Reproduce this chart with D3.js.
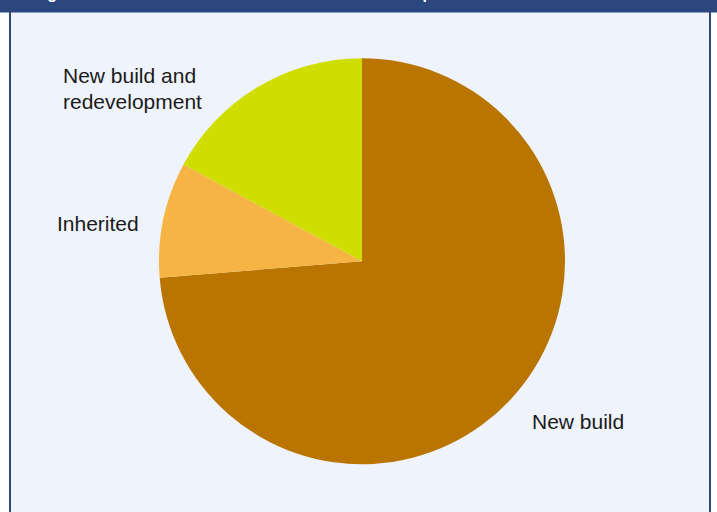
<!DOCTYPE html>
<html>
<head>
<meta charset="utf-8">
<script src="https://cdn.jsdelivr.net/npm/d3@7"></script>
<style>
  html, body { margin: 0; padding: 0; background: #ffffff; }
  svg { display: block; }
</style>
</head>
<body>
<svg id="chart" width="717" height="512"></svg>
<script>
// Share of homes by how they came onto the estate
const categories = ["New build", "Inherited", "New build and redevelopment"];
const shares = [73.7, 9.2, 17.1];
const sliceColors = ["#BA7400", "#F5B443", "#D0DD00"];
const titleText = "Figure 6: Homes on the estate in terms of ownership";

const width = 717, height = 512;
const svg = d3.select("#chart");

// Panel with a framed border
svg.append("rect")
  .attr("x", 10).attr("y", 0)
  .attr("width", 700).attr("height", 530)
  .attr("fill", "#EFF3FB")
  .attr("stroke", "#2B477D")
  .attr("stroke-width", 2);

// Heading band
svg.append("rect")
  .attr("x", 0).attr("y", 0)
  .attr("width", width).attr("height", 12.5)
  .attr("fill", "#2B477D");

svg.append("text")
  .attr("x", 33).attr("y", -1.5)
  .attr("fill", "#ffffff")
  .attr("font-family", "Liberation Sans, Arial, sans-serif")
  .attr("font-weight", "bold")
  .attr("font-size", 16)
  .text(titleText);

// Pie
const cx = 362, cy = 261.2, radius = 203;
const data = categories.map((c, i) => ({ name: c, value: shares[i], color: sliceColors[i] }));

const pie = d3.pie().sort(null).value(d => d.value);
const arc = d3.arc().innerRadius(0).outerRadius(radius);

const g = svg.append("g").attr("transform", `translate(${cx},${cy})`);
g.selectAll("path")
  .data(pie(data))
  .join("path")
  .attr("d", arc)
  .attr("fill", d => d.data.color);

// Slice labels
const labelFont = "Liberation Sans, Arial, Helvetica, sans-serif";
const labels = [
  { name: "New build", lines: ["New build"], x: 532, y: 429 },
  { name: "Inherited", lines: ["Inherited"], x: 57, y: 231 },
  { name: "New build and redevelopment", lines: ["New build and", "redevelopment"], x: 63, y: 83 }
];

labels.forEach(l => {
  const t = svg.append("text")
    .attr("x", l.x).attr("y", l.y)
    .attr("fill", "#1a1a1a")
    .attr("font-family", labelFont)
    .attr("font-size", 21);
  l.lines.forEach((line, i) => {
    t.append("tspan")
      .attr("x", l.x)
      .attr("dy", i === 0 ? 0 : 25.5)
      .text(line);
  });
});
</script>
</body>
</html>
